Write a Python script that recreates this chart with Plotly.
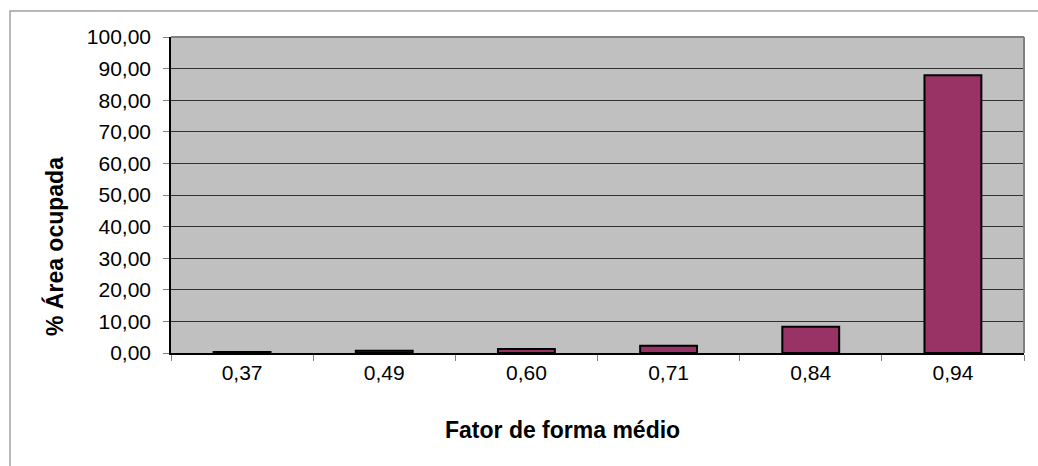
import plotly.graph_objects as go

categories = ["0,37", "0,49", "0,60", "0,71", "0,84", "0,94"]
area_pct = [0.3, 0.7, 1.3, 2.3, 8.3, 87.9]

W, H = 1038, 466
L, R, T, B = 171, 14, 37, 113
pw, ph = W - L - R, H - T - B

def px(x):
    return (x - L) / pw

def py(y):
    return (H - B - y) / ph

fig = go.Figure()
fig.add_trace(go.Bar(
    x=categories, y=area_pct,
    marker=dict(color="#993366", line=dict(color="black", width=2)),
))

font = "Liberation Sans, Arial, sans-serif"
fig.update_layout(
    width=W, height=H,
    margin=dict(l=L, r=R, t=T, b=B),
    paper_bgcolor="white",
    plot_bgcolor="#C0C0C0",
    separators=",.",
    bargap=0.6,
    showlegend=False,
    font=dict(family=font, size=21, color="black"),
    xaxis=dict(
        type="category",
        tickson="boundaries",
        ticks="outside", ticklen=6, tickcolor="#808080", tickwidth=1,
        showline=True, linecolor="black", linewidth=1.5,
        showgrid=False,
        tickfont=dict(size=21),
    ),
    yaxis=dict(
        range=[0, 100], dtick=10, tickformat=".2f",
        ticks="outside", ticklen=6, tickcolor="#808080", tickwidth=1,
        ticklabelstandoff=8,
        showline=True, linecolor="black", linewidth=1.5,
        showgrid=True, gridcolor="#303030", gridwidth=1,
        zeroline=False,
        tickfont=dict(size=21),
    ),
    shapes=[
        dict(type="rect", xref="paper", yref="paper", x0=px(10), y0=py(470),
             x1=px(1045), y1=py(11), line=dict(color="#A0A0A0", width=1.5),
             fillcolor="rgba(0,0,0,0)", layer="below"),
        dict(type="line", xref="paper", yref="paper", x0=0, y0=1, x1=1, y1=1,
             line=dict(color="#808080", width=2)),
        dict(type="line", xref="paper", yref="paper", x0=1, y0=0, x1=1, y1=1,
             line=dict(color="#808080", width=2)),
    ],
    annotations=[
        dict(text="<b>Fator de forma médio</b>", xref="paper", yref="paper",
             x=px(562.5), y=py(430), xanchor="center", yanchor="middle",
             showarrow=False, font=dict(size=23, family=font)),
        dict(text="<b>% Área ocupada</b>", xref="paper", yref="paper",
             x=px(54), y=py(247), xanchor="center", yanchor="middle",
             textangle=-90, showarrow=False, font=dict(size=23, family=font)),
    ],
)

fig.write_html(
    "out.html",
    config={"displayModeBar": False},
    post_script="document.body.style.margin='0';document.body.style.overflow='hidden';",
)
